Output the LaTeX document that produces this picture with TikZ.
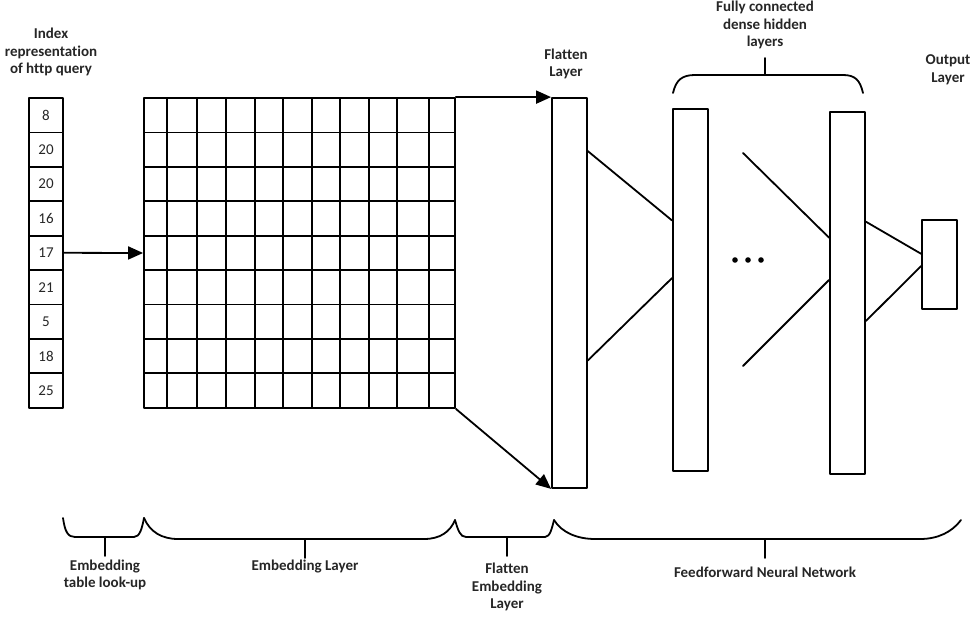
\documentclass[tikz,border=0pt]{standalone}
\usepackage{fontspec}
\setmainfont{Carlito}[Ligatures=NoCommon]
\usetikzlibrary{arrows.meta,calc}

\begin{document}
\begin{tikzpicture}[x=1pt,y=-1pt,line cap=round,line join=round,line width=1.8pt,
    every node/.style={font=\fontsize{15}{17.5}\selectfont,text=black!85},
    lbl/.style={font=\bfseries\fontsize{15}{17.5}\selectfont,align=center},
    cell/.style={draw,minimum width=34pt,minimum height=34.4pt,inner sep=0pt},
    layer/.style={draw,minimum width=35pt,inner sep=0pt},
    arr/.style={-{Triangle[length=15pt,width=13pt]}}]
        \useasboundingbox (0,0) rectangle (977,616);
        % index column
        \foreach \v [count=\i] in {8,20,20,16,17,21,5,18,25}
            \node[cell] (idx\i) at (46,{98+34.4*(\i-0.5)}) {\v};
        % embedding matrix
        \node[draw,minimum width=311pt,minimum height=310pt,inner sep=0pt] (emb) at (299.5,253) {};
        \foreach \x in {167,197,226,255,283,312,340,369,397,429}
            \draw (\x,98) -- (\x,408);
        \foreach \j in {1,...,8}
            \draw (144,{98+34.4*\j}) -- (455,{98+34.4*\j});
        % layers
        \node[layer,minimum height=390pt] (flat) at (569.5,293) {};
        \node[layer,minimum height=362pt] (hid1) at (690.5,290) {};
        \node[layer,minimum height=362pt] (hid2) at (847.5,293) {};
        \node[layer,minimum height=89pt] (out) at (939.5,264.5) {};
        % arrows
        \draw[arr] (idx5.east) -- (emb.west);
        \draw[arr] (emb.north east) -- (flat.north west);
        \draw[arr] (emb.south east) -- (flat.south west);
        % connections
        \draw ($(flat.north east)!0.138!(flat.south east)$) -- ($(hid1.north west)!0.309!(hid1.south west)$);
        \draw ($(flat.north east)!0.672!(flat.south east)$) -- ($(hid1.north west)!0.467!(hid1.south west)$);
        \coordinate (gapA) at (743,153);
        \coordinate (gapB) at (743,366);
        \draw (gapA) -- ($(hid2.north west)!0.348!(hid2.south west)$);
        \draw (gapB) -- ($(hid2.north west)!0.464!(hid2.south west)$);
        \draw ($(hid2.north east)!0.304!(hid2.south east)$) -- ($(out.north west)!0.382!(out.south west)$);
        \draw ($(hid2.north east)!0.577!(hid2.south east)$) -- ($(out.north west)!0.517!(out.south west)$);
        \foreach \x in {735,748,761}
            \fill (\x,260) circle (2.8pt);
        % top labels
        \node[lbl] (idxlbl) at (51,52) {Index\\representation\\of http query};
        \node[lbl] (flatlbl) at (566,64) {Flatten\\Layer};
        \node[lbl] (hidlbl) at (765,25) {Fully connected\\dense hidden\\layers};
        \node[lbl] (outlbl) at (948,70) {Output\\Layer};
        \draw (673,93) .. controls (676,80) and (682,75) .. (695,75) -- (843,75) .. controls (855,75) and (860,80) .. (863,93);
        \draw (765,75) -- (765,58);
        % bottom braces
        \draw (63,518) .. controls (65,532) and (68,537) .. (75,537) -- (134,537) .. controls (140,537) and (142,528) .. (144,518);
        \draw (144,518) .. controls (150,532) and (162,539) .. (178,539) -- (424,539) .. controls (440,539) and (450,532) .. (455,520);
        \draw (455,520) .. controls (458,530) and (460,537) .. (466,537) -- (545,537) .. controls (550,537) and (552,528) .. (554,520);
        \draw (554,520) .. controls (562,533) and (578,539) .. (595,539) -- (920,539) .. controls (938,539) and (952,532) .. (961,520);
        \draw (105,537) -- (105,556);
        \draw (305,539) -- (305,558);
        \draw (507,537) -- (507,556);
        \draw (765,539) -- (765,558);
        \node[lbl] (lookup) at (105,575) {Embedding\\table look-up};
        \node[lbl] (emblbl) at (305,566) {Embedding Layer};
        \node[lbl] (flatemb) at (507,587) {Flatten\\Embedding\\Layer};
        \node[lbl] (ffnn) at (765,572) {Feedforward Neural Network};
    \end{tikzpicture}
\end{document}
